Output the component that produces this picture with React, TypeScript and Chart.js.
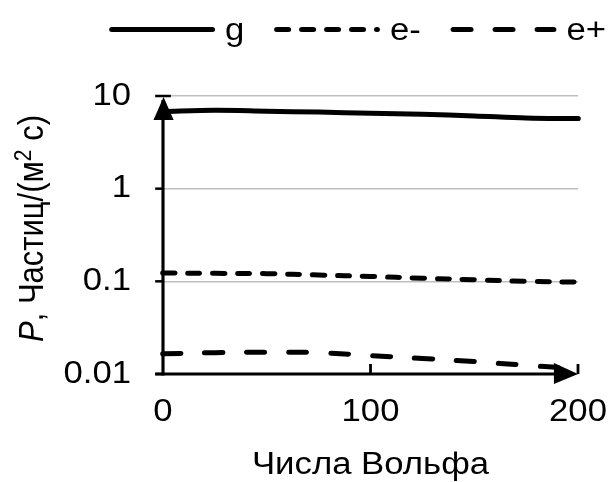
import React, { useEffect, useRef } from "react";
import { Chart, registerables } from "chart.js";

Chart.register(...registerables);

// Wolf sunspot numbers along the x axis
const wolfNumbers = [0, 25, 50, 75, 100, 125, 150, 175, 200];
// Particle fluxes, particles/(m^2 s)
const gFlux = [6.8, 7.0, 6.85, 6.7, 6.5, 6.35, 6.1, 5.8, 5.7];
const eMinusFlux = [0.123, 0.122, 0.121, 0.117, 0.113, 0.108, 0.104, 0.1, 0.098];
const ePlusFlux = [0.0165, 0.017, 0.0172, 0.017, 0.0158, 0.0147, 0.0136, 0.0124, 0.0114];
const seriesLabels = ["g", "e-", "e+"];
const yTickValues = [0.01, 0.1, 1, 10];
const xTickValues = [0, 100, 200];
const xTitle = "Числа Вольфа";

const FONT = "'Liberation Sans', Arial, sans-serif";
const FONT_SIZE = 31;
// The whole drawing is widened horizontally by this factor
const SX = 1.12;
const CANVAS_W = 608;
const CANVAS_H = 482;

const toPoints = (ys: number[]) => wolfNumbers.map((x, i) => ({ x, y: ys[i] }));

// Start of the horizontal stretch
const stretchBegin = {
  id: "stretchBegin",
  beforeDraw(chart: any) {
    chart.ctx.save();
    chart.ctx.scale(SX, 1);
  },
};

// End of the horizontal stretch (registered last)
const stretchEnd = {
  id: "stretchEnd",
  afterDraw(chart: any) {
    chart.ctx.restore();
  },
};

// Axis lines with tick marks and arrowheads, drawn over the data
const axesPlugin = {
  id: "arrowAxes",
  afterDatasetsDraw(chart: any) {
    const { ctx, chartArea, scales } = chart;
    const { left, right, top, bottom } = chartArea;
    const ys = scales.y;
    const xs = scales.x;
    ctx.save();
    ctx.strokeStyle = "#000";
    ctx.fillStyle = "#000";
    ctx.lineCap = "butt";

    // vertical axis
    ctx.lineWidth = 2.8;
    ctx.beginPath();
    ctx.moveTo(left, bottom + 1.5);
    ctx.lineTo(left, top + 4);
    ctx.stroke();
    // horizontal axis
    ctx.lineWidth = 3;
    ctx.beginPath();
    ctx.moveTo(left - 7, bottom);
    ctx.lineTo(right - 4, bottom);
    ctx.stroke();

    // y tick marks (outside)
    ctx.lineWidth = 2.5;
    yTickValues.forEach((v) => {
      const py = ys.getPixelForValue(v);
      ctx.beginPath();
      ctx.moveTo(left - 7, py);
      ctx.lineTo(v === yTickValues[yTickValues.length - 1] ? left + 7 : left, py);
      ctx.stroke();
    });
    // x tick marks (inside)
    xTickValues.forEach((v) => {
      if (v === xTickValues[0]) return;
      const px = xs.getPixelForValue(v);
      ctx.beginPath();
      ctx.moveTo(px, bottom);
      ctx.lineTo(px, bottom - 10);
      ctx.stroke();
    });

    // arrowhead on the y axis
    ctx.beginPath();
    ctx.moveTo(left + 0.5, top + 1);
    ctx.lineTo(left + 9.5, top + 24);
    ctx.lineTo(left - 8.5, top + 24);
    ctx.closePath();
    ctx.fill();
    // arrowhead on the x axis
    ctx.beginPath();
    ctx.moveTo(right, bottom);
    ctx.lineTo(right - 21.5, bottom - 11);
    ctx.lineTo(right - 21.5, bottom + 10);
    ctx.closePath();
    ctx.fill();

    ctx.restore();
  },
};

// Rotated y-axis title with italic P and a superscript 2
const yTitlePlugin = {
  id: "richYTitle",
  afterDatasetsDraw(chart: any) {
    const { ctx } = chart;
    const parts = [
      { text: "P", font: `italic ${FONT_SIZE}px ${FONT}`, rise: 0 },
      { text: ", Частиц/(м", font: `${FONT_SIZE}px ${FONT}`, rise: 0 },
      { text: "2", font: `${Math.round(FONT_SIZE * 0.68)}px ${FONT}`, rise: 10.5 },
      { text: " с)", font: `${FONT_SIZE}px ${FONT}`, rise: 0 },
    ];
    ctx.save();
    let total = 0;
    const widths = parts.map((p) => {
      ctx.font = p.font;
      const w = ctx.measureText(p.text).width;
      total += w;
      return w;
    });
    ctx.translate(38.5, 228.5);
    ctx.rotate(-Math.PI / 2);
    ctx.fillStyle = "#000";
    ctx.textBaseline = "alphabetic";
    ctx.textAlign = "left";
    let x = -total / 2;
    parts.forEach((p, i) => {
      ctx.font = p.font;
      ctx.fillText(p.text, x, -p.rise);
      x += widths[i];
    });
    ctx.restore();
  },
};

// Legend row across the top: line sample followed by its label
const legendPlugin = {
  id: "lineLegend",
  afterDatasetsDraw(chart: any) {
    const { ctx } = chart;
    const lineLen = 89.5;
    const textGap = 11.5;
    const itemGap = 29;
    const y = 29.5;
    let x = 100;
    ctx.save();
    ctx.font = `${FONT_SIZE}px ${FONT}`;
    ctx.textBaseline = "alphabetic";
    ctx.fillStyle = "#000";
    chart.data.datasets.forEach((ds: any) => {
      ctx.strokeStyle = ds.borderColor;
      ctx.lineWidth = ds.borderWidth;
      ctx.lineCap = "round";
      ctx.setLineDash(ds.borderDash || []);
      ctx.beginPath();
      ctx.moveTo(x, y);
      ctx.lineTo(x + lineLen, y);
      ctx.stroke();
      ctx.setLineDash([]);
      const tx = x + lineLen + textGap;
      ctx.fillText(ds.label, tx, y + 10.5);
      x = tx + ctx.measureText(ds.label).width + itemGap;
    });
    ctx.restore();
  },
};

export default function App() {
  const canvasRef = useRef<HTMLCanvasElement | null>(null);

  useEffect(() => {
    const canvas = canvasRef.current;
    if (!canvas) return;
    const common = {
      borderColor: "#000",
      borderWidth: 5,
      pointRadius: 0,
      tension: 0.35,
      fill: false,
      clip: false as any,
      borderCapStyle: "round" as const,
    };
    // chart laid out in the unstretched width, then widened by SX
    const plotRight = 578 / SX;
    const chart = new Chart(canvas, {
      type: "line",
      data: {
        datasets: [
          { ...common, label: seriesLabels[0], data: toPoints(gFlux), borderDash: [] },
          { ...common, label: seriesLabels[1], data: toPoints(eMinusFlux), borderDash: [10.2, 12.1] },
          { ...common, label: seriesLabels[2], data: toPoints(ePlusFlux), borderDash: [15.5, 22] },
        ],
      },
      options: {
        responsive: false,
        animation: false,
        events: [],
        layout: { padding: { top: 96, right: CANVAS_W - plotRight, left: 0, bottom: 0 } },
        plugins: {
          legend: { display: false },
          tooltip: { enabled: false },
        },
        scales: {
          x: {
            type: "linear",
            min: 0,
            max: 200,
            afterBuildTicks: (scale: any) => {
              scale.ticks = xTickValues.map((value) => ({ value }));
            },
            afterFit: (scale: any) => {
              scale.height = 108;
            },
            grid: { display: false, drawTicks: false },
            border: { display: false },
            ticks: {
              color: "#000",
              padding: 20,
              maxRotation: 0,
              font: { family: FONT, size: FONT_SIZE },
            },
            title: {
              display: true,
              text: xTitle,
              color: "#000",
              padding: { top: 0, bottom: -2 },
              font: { family: FONT, size: FONT_SIZE },
            },
          },
          y: {
            type: "logarithmic",
            min: 0.01,
            max: 10,
            afterBuildTicks: (scale: any) => {
              scale.ticks = yTickValues.map((value) => ({ value }));
            },
            afterFit: (scale: any) => {
              scale.width = 163 / SX;
            },
            grid: { color: "#bfbfbf", lineWidth: 1.5, drawTicks: false },
            border: { display: false },
            ticks: {
              color: "#000",
              padding: 28.5,
              font: { family: FONT, size: FONT_SIZE },
              callback: (v: any) => String(v),
            },
          },
        },
      },
      plugins: [stretchBegin, axesPlugin, yTitlePlugin, legendPlugin, stretchEnd],
    });
    return () => chart.destroy();
  }, []);

  return (
    <div style={{ position: "absolute", left: 0, top: 0, width: CANVAS_W, height: CANVAS_H, background: "#fff" }}>
      <canvas ref={canvasRef} width={CANVAS_W} height={CANVAS_H} />
    </div>
  );
}
